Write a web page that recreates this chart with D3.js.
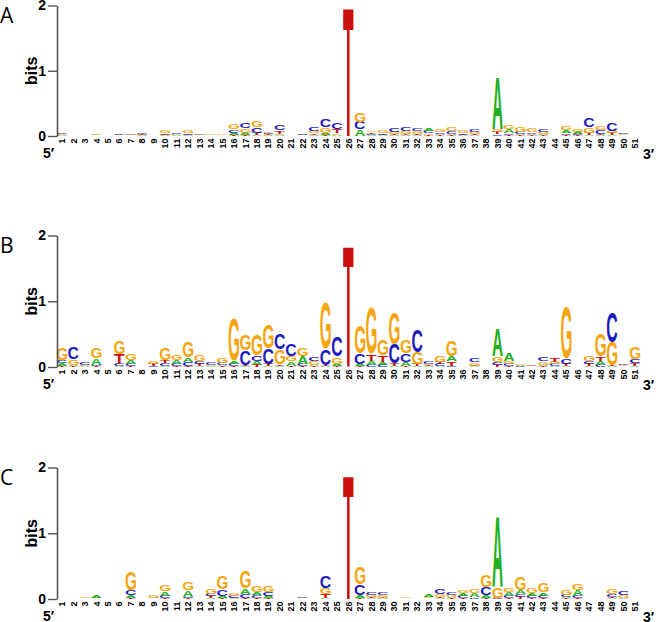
<!DOCTYPE html>
<html><head><meta charset="utf-8">
<script src="https://cdn.jsdelivr.net/npm/d3@7"></script>
<style>body{margin:0;background:#fff}svg{display:block}</style>
</head><body>
<svg id="chart" width="656" height="622"></svg>
<script>
const positions = d3.range(1, 52);
const bases = ["A", "C", "G", "T"];
const panelLabels = ["A", "B", "C"];
const yTicks = [0, 1, 2];
const colors = {A: "#20b020", C: "#1c1cbe", G: "#f5a511", T: "#cc1010"};

// Panel A — information (bits) per base per position 1..51
const panelA_A = [.01,.003,.003,.01,.002,.005,.005,.01,.003,.01,.01,.01,.005,.005,.005,.03,.03,.02,.01,.015,.003,.01,.02,.03,.01,0,.1,.015,.01,.01,.015,.015,.04,.015,.02,.01,.01,.002,.8,.06,.015,.02,.015,.002,.035,.03,.01,.015,.01,.005,.002];
const panelA_C = [.03,.003,.003,.005,.002,.03,.01,.03,.003,.01,.025,.02,.01,.005,.005,.05,.08,.08,.025,.09,.003,.02,.07,.12,.11,0,.12,.02,.025,.07,.07,.04,.035,.03,.04,.025,.045,.002,.03,.03,.04,.03,.05,.002,.03,.02,.14,.06,.13,.03,.002];
const panelA_G = [.01,.003,.003,.025,.002,.01,.03,.01,.003,.04,.015,.045,.025,.02,.02,.08,.07,.11,.03,.02,.003,.005,.04,.08,.03,0,.14,.03,.04,.035,.04,.035,.03,.035,.06,.035,.04,.002,.05,.065,.09,.07,.04,.002,.06,.035,.09,.065,.04,.015,.002];
const panelA_T = [.005,.003,.003,.005,.002,.005,.005,.015,.003,.02,.005,.01,.005,.005,.005,.02,.02,.03,.015,.05,.003,.005,.02,.02,.06,1.98,0,.02,.01,.02,.02,.02,.01,.01,.015,.01,.015,.002,.03,.015,.01,.01,.01,.002,.02,.01,.03,.02,.03,.005,.002];

// Panel B
const panelB_A = [.035,.02,.01,.1,.003,.01,.06,.002,.005,.02,.06,.07,.01,.01,.02,.05,.01,.06,.01,.02,.07,.12,.02,.01,.03,0,.03,.06,.04,.02,.06,.02,.01,.01,.08,.002,.01,.002,.43,.12,.015,.005,.02,.01,.01,.002,.02,.065,.01,.005,.02];
const panelB_C = [.045,.19,.03,.02,.003,.03,.03,.002,.015,.04,.04,.06,.05,.03,.03,.03,.22,.09,.24,.24,.18,.04,.07,.25,.3,0,.16,.03,.03,.3,.13,.35,.03,.03,.02,.002,.07,.002,.05,.03,.01,.01,.07,.03,.09,.002,.04,.03,.46,.02,.06];
const panelB_G = [.18,.09,.015,.17,.003,.2,.1,.002,.04,.18,.09,.24,.1,.02,.09,.64,.24,.33,.36,.23,.075,.13,.06,.71,.11,0,.42,.71,.25,.48,.2,.18,.02,.1,.25,.002,.05,.002,.09,.05,.015,.02,.05,.04,.79,.002,.09,.35,.36,.015,.18];
const panelB_T = [.02,.015,.005,.015,.003,.16,.01,.002,.03,.05,.01,.02,.03,.005,.01,.02,.02,.03,.03,.02,.02,.01,.015,.02,.02,1.84,.02,.11,.11,.03,.02,.03,.015,.04,.07,.002,.01,.002,.03,.01,.005,.005,.015,.07,.03,.002,.03,.07,.01,.005,.04];

// Panel C
const panelC_A = [.002,.002,.003,.03,.002,.002,.05,.002,.01,.07,.002,.1,.002,.01,.03,.01,.09,.05,.03,.002,.002,.005,.002,.01,.002,0,.05,.01,.01,.002,.003,.002,.03,.01,.02,.045,.065,.05,1.08,.06,.06,.04,.05,.002,.02,.1,.002,.002,.01,.01,.002];
const panelC_C = [.002,.002,.003,.005,.002,.002,.08,.002,.005,.03,.002,.02,.002,.04,.1,.03,.06,.04,.06,.002,.002,.02,.002,.19,.002,0,.17,.035,.045,.002,.003,.002,.005,.09,.04,.04,.02,.12,.01,.03,.04,.03,.03,.002,.03,.03,.002,.002,.035,.06,.002];
const panelC_G = [.002,.002,.02,.01,.002,.002,.28,.002,.03,.11,.002,.13,.002,.09,.2,.04,.27,.11,.1,.002,.002,.005,.002,.1,.002,0,.26,.03,.04,.002,.02,.002,.02,.035,.035,.05,.07,.18,.17,.065,.21,.09,.14,.002,.09,.11,.002,.002,.09,.04,.002];
const panelC_T = [.002,.002,.003,.005,.002,.002,.01,.002,.005,.02,.002,.01,.002,.03,.02,.01,.02,.02,.01,.002,.002,.005,.002,.06,.002,1.88,.01,.02,.01,.002,.003,.002,.005,.025,.01,.01,.005,.01,.01,.01,.03,.02,.02,.002,.01,.01,.002,.002,.025,.005,.002];

const panels = [
  {label: panelLabels[0], series: {A: panelA_A, C: panelA_C, G: panelA_G, T: panelA_T}, y0: 136, y2: 5.5},
  {label: panelLabels[1], series: {A: panelB_A, C: panelB_C, G: panelB_G, T: panelB_T}, y0: 367, y2: 235.5},
  {label: panelLabels[2], series: {A: panelC_A, C: panelC_C, G: panelC_G, T: panelC_T}, y0: 599, y2: 467.5}
];

const FONT = "'Liberation Sans', Arial, Helvetica, sans-serif";
const svg = d3.select("#chart");

// glyph ink metrics
const ctx = document.createElement("canvas").getContext("2d");
ctx.font = "bold 100px 'Liberation Sans'";
const gm = {};
bases.forEach(b => {
  const m = ctx.measureText(b);
  gm[b] = {l: m.actualBoundingBoxLeft, r: m.actualBoundingBoxRight, a: m.actualBoundingBoxAscent, d: m.actualBoundingBoxDescent};
});

const step = 11.46;
const x = d3.scaleBand().domain(positions)
  .range([62 - step / 2, 62 + (positions.length - 0.5) * step])
  .paddingInner(0.09).paddingOuter(0.045);

panels.forEach(p => {
  const y = d3.scaleLinear().domain([0, 2]).range([p.y0, p.y2]);
  const g = svg.append("g");

  // letters
  positions.forEach((pos, i) => {
    const stack = bases.map(b => ({b, v: p.series[b][i]})).filter(d => d.v > 0)
      .sort((a, b) => a.v - b.v);
    let cum = 0;
    stack.forEach(d => {
      const yb = y(cum), yt = y(cum + d.v);
      cum += d.v;
      const h = yb - yt;
      const gap = Math.min(0.6, h * 0.08);
      const hh = h - gap;
      if (hh < 0.3) return;
      const m = gm[d.b];
      const w = x.bandwidth();
      const sx = w / (m.l + m.r), sy = hh / (m.a + m.d);
      g.append("text")
        .attr("transform", `translate(${x(pos)},${yb})scale(${sx},${sy})translate(${m.l},${-m.d})`)
        .attr("font-family", FONT).attr("font-weight", "bold").attr("font-size", 100)
        .attr("fill", colors[d.b]).text(d.b);
    });
  });

  // y axis
  const ax = g.append("g").attr("transform", "translate(57,0)")
    .call(d3.axisLeft(y).tickValues(yTicks).tickFormat(d3.format("d")).tickSize(9).tickSizeOuter(0).tickPadding(2));
  ax.select(".domain").attr("stroke", "#555").attr("stroke-width", 1.6);
  ax.selectAll(".tick line").attr("stroke", "#555").attr("stroke-width", 1.4);
  ax.selectAll(".tick text").attr("font-family", FONT).attr("font-weight", "bold")
    .attr("font-size", 14).attr("fill", "#000");

  g.append("text").attr("transform", `translate(37,${y(1)})rotate(-90)`)
    .attr("text-anchor", "middle").attr("font-family", FONT).attr("font-weight", "bold")
    .attr("font-size", 16).text("bits");

  // x labels
  g.selectAll(".xl").data(positions).join("text")
    .attr("transform", d => `translate(${x(d) + x.bandwidth() / 2},${p.y0 + 2.5})rotate(-90)`)
    .attr("dy", "0.35em").attr("text-anchor", "end")
    .attr("font-family", FONT).attr("font-weight", "bold").attr("font-size", 9)
    .text(d => d);

  g.append("text").attr("x", 43).attr("y", p.y0 + 22).attr("font-family", FONT)
    .attr("font-weight", "bold").attr("font-size", 14).text("5\u2032");
  g.append("text").attr("x", 643).attr("y", p.y0 + 23).attr("font-family", FONT)
    .attr("font-weight", "bold").attr("font-size", 14).text("3\u2032");

  svg.append("text").attr("x", 0).attr("y", p.y2 + 17)
    .attr("font-family", "'Open Sans', 'Noto Sans', sans-serif").attr("font-size", 21)
    .text(p.label);
});
</script>
</body></html>
